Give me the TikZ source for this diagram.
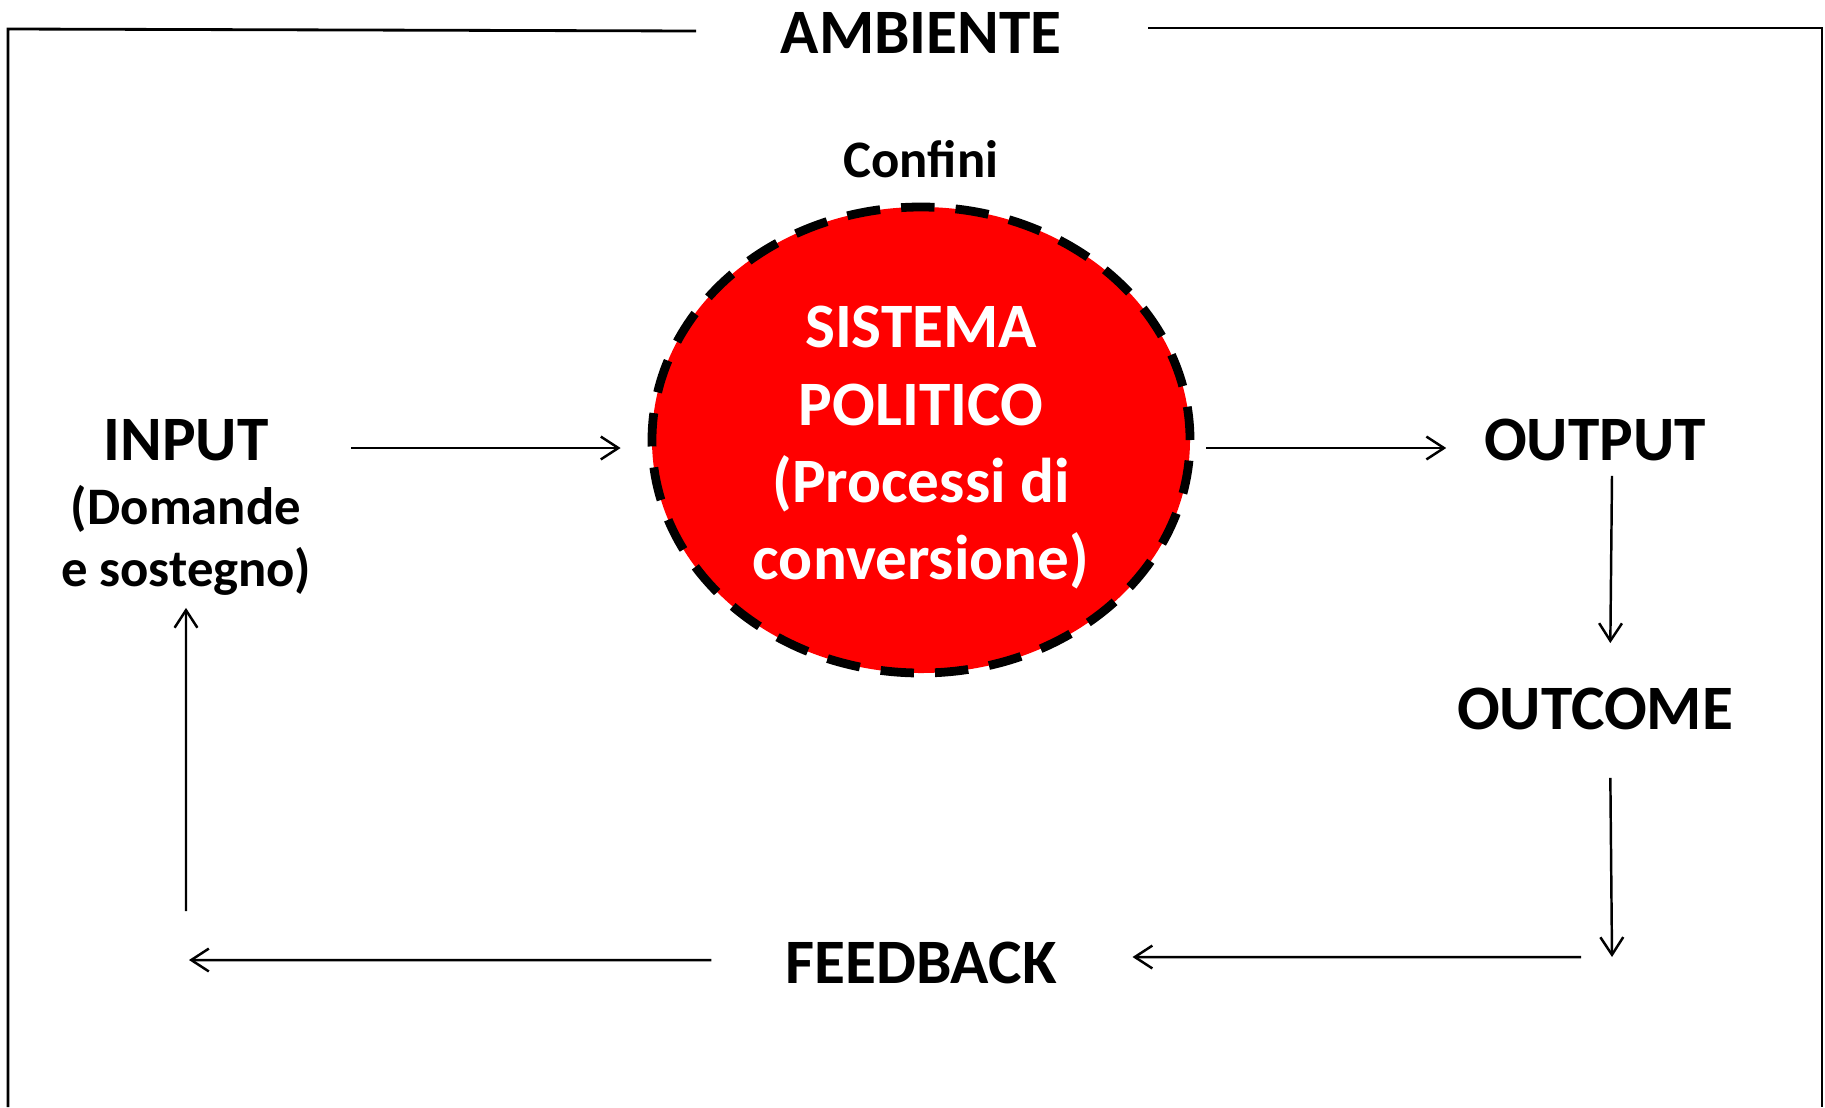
\documentclass[tikz,border=0pt]{standalone}
\usepackage{fontspec}
\setmainfont{Carlito}
\usetikzlibrary{arrows.meta,shapes.geometric}

\begin{document}
\begin{tikzpicture}[->,>={Straight Barb[length=5pt,width=6.5pt]},line width=0.7pt,
        word/.style={font=\fontsize{18}{22}\selectfont\bfseries},
        small word/.style={font=\fontsize{15}{17.6}\selectfont\bfseries,align=center},
        system/.style={ellipse,draw,fill=red,line width=2.5pt,dash pattern=on 9.5pt off 6pt,
          minimum width=5.38cm,minimum height=4.66cm,inner sep=0pt},
        system text/.style={align=center,text=white,font=\fontsize{18}{22}\selectfont\bfseries},
        rim/.style={-,line width=0.8pt}]

  \useasboundingbox (0,0) rectangle (18.25,11.07);

  \draw[rim] (6.96,10.76) -- (0.08,10.78) -- (0.08,0);
  \draw[rim] (11.48,10.79) -- (18.22,10.79) -- (18.22,0);

  \node[system] (sistema) at (9.21,6.67) {};
  \node[system text] (sistematext) at ([yshift=-0.8mm]sistema.center) {SISTEMA\\POLITICO\\(Processi di\\conversione)};
  \node[small word] (confini) [above of=sistema, node distance=2.81cm] {Confini};
  \node[word] (ambiente) [above of=confini, node distance=1.26cm] {AMBIENTE};
  \node[word] (input) [left of=sistema, node distance=7.35cm] {INPUT};
  \node[small word] (domande) [below of=input, node distance=1.0cm] {(Domande\\e sostegno)};
  \node[word] (output) [right of=sistema, node distance=6.74cm] {OUTPUT};
  \node[word] (outcome) [below of=output, node distance=2.69cm] {OUTCOME};
  \node[word] (feedback) [below of=sistema, node distance=5.23cm] {FEEDBACK};

  \coordinate (outcomeend) at (16.12,1.50);
  \coordinate (loopstart) at (15.81,1.50);
  \coordinate (loopend) at (1.89,1.47);
  \coordinate (inputstart) at (1.86,1.96);

  \path ([yshift=-0.8mm]input.east) edge [shorten <=7mm, shorten >=2.7mm] ([yshift=-0.8mm]sistema.west)
        ([yshift=-0.8mm]sistema.east) edge [shorten <=1.2mm, shorten >=2.5mm] ([yshift=-0.8mm]output.west)
        ([xshift=1.7mm]output.south) edge [shorten <=0.2mm, shorten >=3.2mm] ([xshift=1.5mm]outcome.north)
        ([xshift=1.5mm]outcome.south) edge [shorten <=3.5mm] (outcomeend)
        (loopstart) edge [shorten >=6.3mm] ([yshift=0.6mm]feedback.east)
        ([yshift=0.3mm]feedback.west) edge [shorten <=6.1mm] (loopend)
        (inputstart) edge (domande.south);

\end{tikzpicture}
\end{document}
